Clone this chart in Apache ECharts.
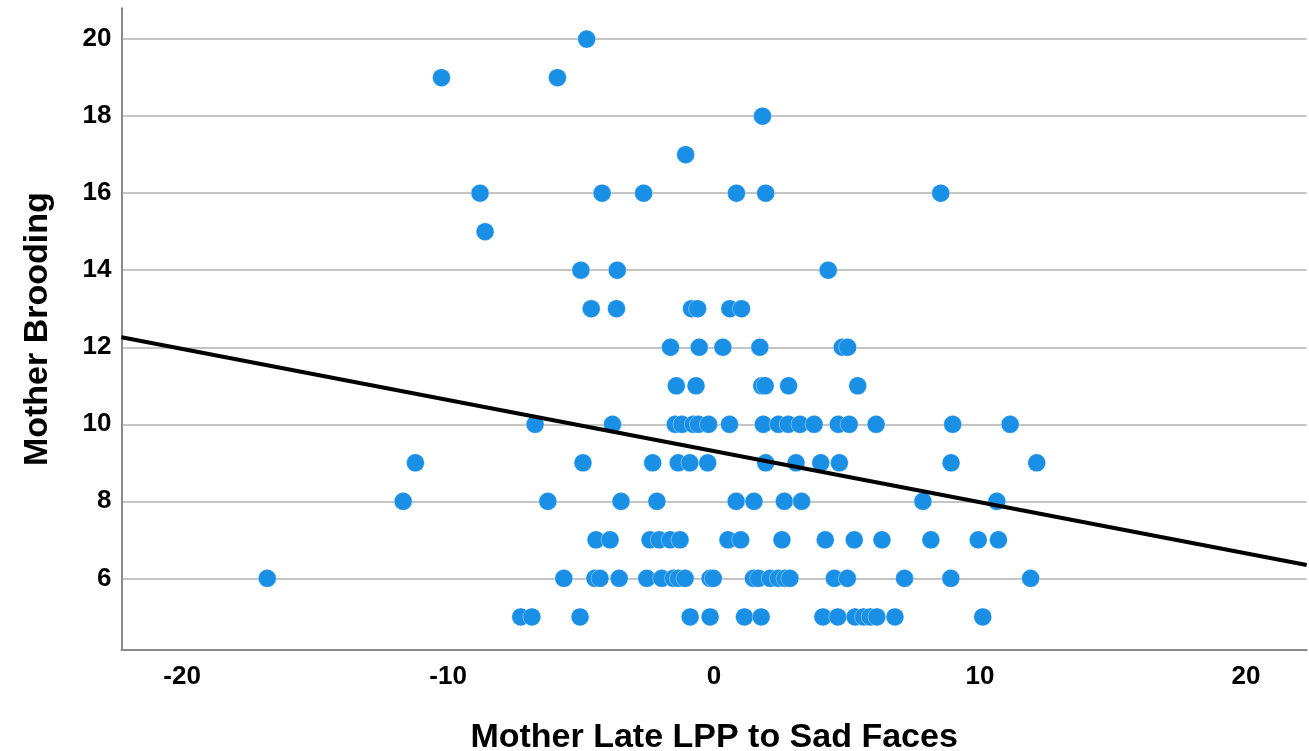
<!DOCTYPE html>
<html>
<head>
<meta charset="utf-8">
<script src="https://cdn.jsdelivr.net/npm/echarts@6/dist/echarts.min.js"></script>
<style>
html,body{margin:0;padding:0;background:#fff;}
#chart{width:1309px;height:751px;}
</style>
</head>
<body>
<div id="chart"></div>
<script>
// Mother Brooding levels and the Mother Late LPP values observed at each level
const broodingLevels = [20, 19, 18, 17, 16, 15, 14, 13, 12, 11, 10, 9, 8, 7, 6, 5];
const lpp_b20 = [-4.79];
const lpp_b19 = [-10.25, -5.89];
const lpp_b18 = [1.82];
const lpp_b17 = [-1.07];
const lpp_b16 = [-8.8, -4.21, -2.65, 0.84, 1.94, 8.52];
const lpp_b15 = [-8.61];
const lpp_b14 = [-5.01, -3.64, 4.29];
const lpp_b13 = [-4.62, -3.67, -0.85, -0.62, 0.59, 1.03];
const lpp_b12 = [-1.64, -0.56, 0.33, 1.72, 4.82, 5.02];
const lpp_b11 = [-1.42, -0.68, 1.79, 1.92, 2.8, 5.4];
const lpp_b10 = [-6.73, -3.82, -1.46, -1.21, -0.78, -0.59, -0.21, 0.58, 1.85, 2.42, 2.79, 3.23, 3.76, 4.67, 5.08, 6.09, 8.97, 11.13];
const lpp_b9  = [-11.23, -4.93, -2.31, -1.35, -0.91, -0.24, 1.94, 3.08, 4.01, 4.71, 8.91, 12.13];
const lpp_b8  = [-11.69, -6.25, -3.5, -2.15, 0.83, 1.5, 2.64, 3.29, 7.85, 10.63];
const lpp_b7  = [-4.44, -3.91, -2.41, -2.06, -1.65, -1.28, 0.52, 1.0, 2.55, 4.18, 5.27, 6.31, 8.15, 9.93, 10.69];
const lpp_b6  = [-16.8, -5.65, -4.48, -4.29, -3.57, -2.53, -1.97, -1.53, -1.34, -1.09, -0.15, -0.03, 1.48, 1.67, 2.11, 2.42, 2.67, 2.85, 4.52, 5.01, 7.16, 8.9, 11.9];
const lpp_b5  = [-7.27, -6.85, -5.04, -0.9, -0.15, 1.14, 1.77, 4.09, 4.65, 5.3, 5.62, 5.87, 6.12, 6.8, 10.1];
const lppByLevel = [lpp_b20, lpp_b19, lpp_b18, lpp_b17, lpp_b16, lpp_b15, lpp_b14, lpp_b13,
                    lpp_b12, lpp_b11, lpp_b10, lpp_b9, lpp_b8, lpp_b7, lpp_b6, lpp_b5];

// Linear fit line
const fitIntercept = 9.305;
const fitSlope = -0.1327;

// Axis extents and tick labels
const xRange = [-22.28, 22.28];
const yRange = [4.14, 20.8];
const xTicks = [-20, -10, 0, 10, 20];
const yTicks = [6, 8, 10, 12, 14, 16, 18, 20];

const points = [];
broodingLevels.forEach((b, i) => {
  lppByLevel[i].forEach(x => points.push([x, b]));
});
const fitLine = xRange.map(x => [x, fitIntercept + fitSlope * x]);

const chart = echarts.init(document.getElementById('chart'), null, {renderer: 'canvas'});
const font = '"Liberation Sans", Arial, Helvetica, sans-serif';
chart.setOption({
  animation: false,
  backgroundColor: '#ffffff',
  grid: {left: 121.5, right: 2.3, top: 8.3, bottom: 101, containLabel: false, outerBoundsMode: 'none'},
  xAxis: {
    type: 'value',
    min: xRange[0], max: xRange[1],
    name: 'Mother Late LPP to Sad Faces',
    nameLocation: 'middle',
    nameGap: 71,
    nameTextStyle: {fontFamily: font, fontWeight: 'bold', fontSize: 34, color: '#000'},
    axisLine: {show: true, onZero: false, lineStyle: {color: '#8a8a8a', width: 2}},
    axisTick: {show: false, customValues: xTicks},
    axisLabel: {customValues: xTicks, margin: 14, fontFamily: font, fontWeight: 'bold', fontSize: 26, color: '#000'},
    splitLine: {show: false}
  },
  yAxis: {
    type: 'value',
    min: yRange[0], max: yRange[1],
    name: 'Mother Brooding',
    nameLocation: 'middle',
    nameGap: 67,
    nameTextStyle: {fontFamily: font, fontWeight: 'bold', fontSize: 34, color: '#000'},
    axisLine: {show: true, onZero: false, lineStyle: {color: '#8a8a8a', width: 2}},
    axisTick: {show: false, customValues: yTicks},
    axisLabel: {customValues: yTicks, margin: 10, fontFamily: font, fontWeight: 'bold', fontSize: 26, color: '#000'},
    splitLine: {show: true, lineStyle: {color: '#c4c4c4', width: 2}}
  },
  series: [
    {
      type: 'scatter',
      data: points,
      symbol: 'circle',
      symbolSize: 18,
      itemStyle: {color: '#1a8fe6', opacity: 1, borderColor: 'rgba(255,255,255,0.6)', borderWidth: 0.6},
      z: 2
    },
    {
      type: 'line',
      data: fitLine,
      symbol: 'none',
      lineStyle: {color: '#000', width: 4},
      z: 3,
      silent: true
    }
  ]
});
</script>
</body>
</html>
